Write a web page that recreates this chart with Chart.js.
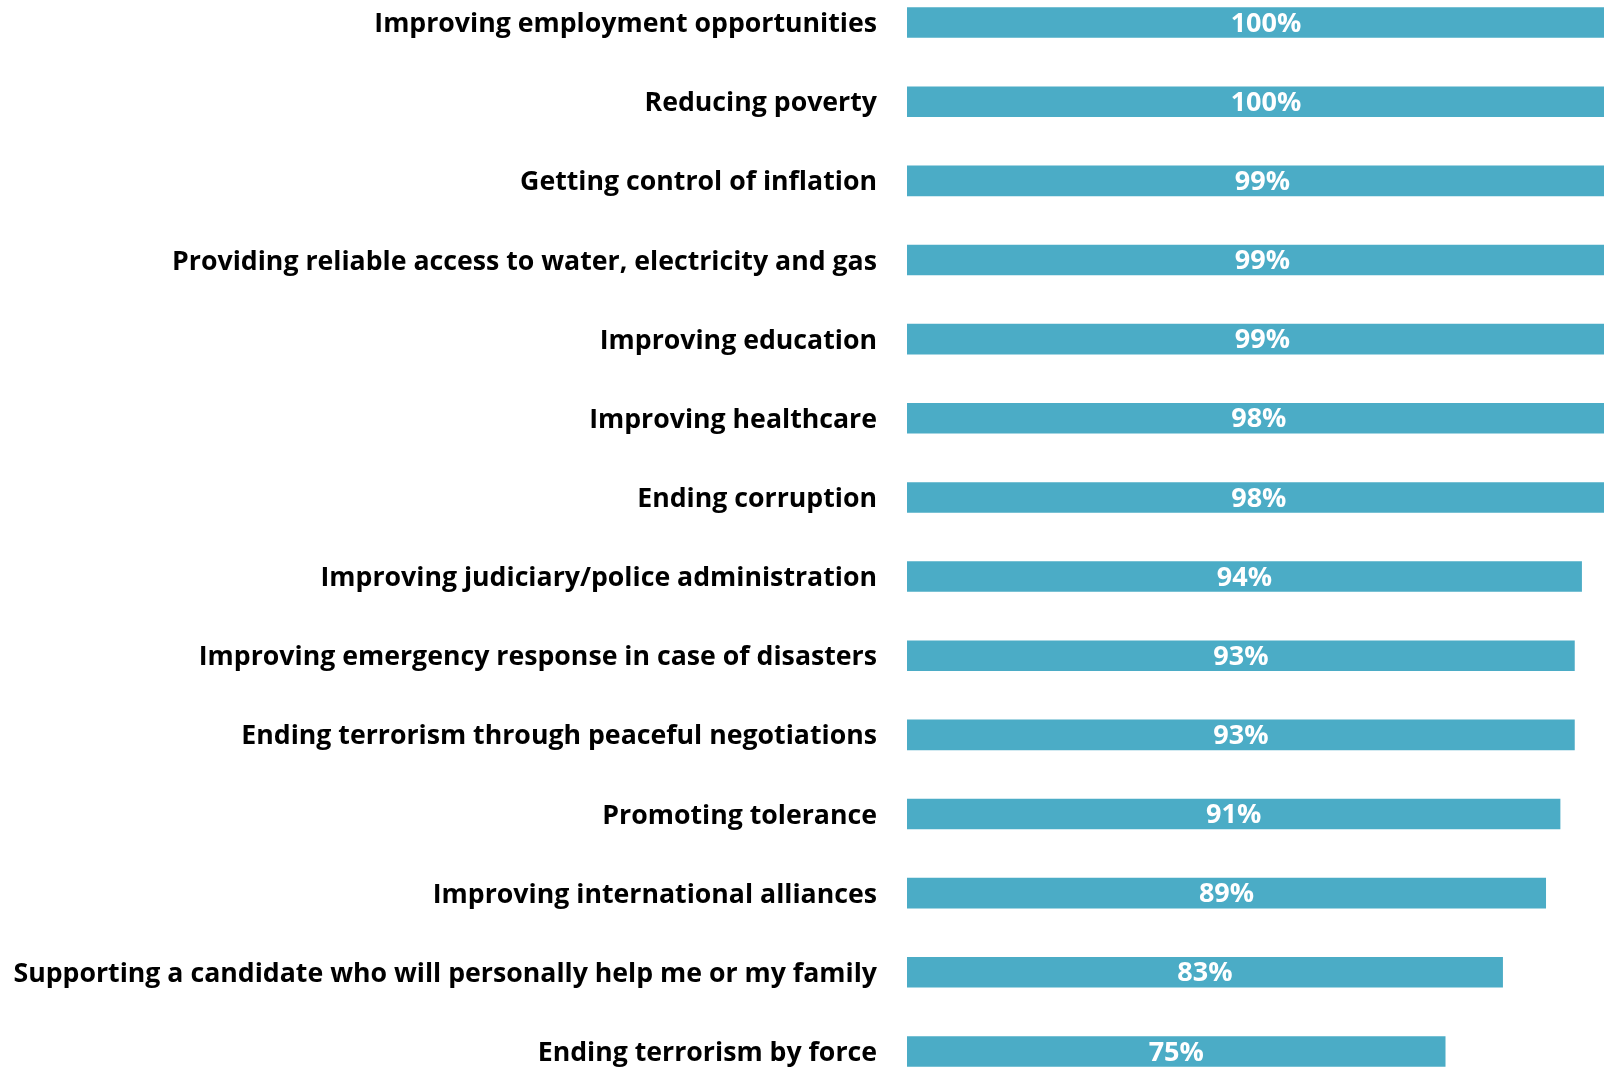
<!DOCTYPE html>
<html>
<head>
<meta charset="utf-8">
<script src="https://cdn.jsdelivr.net/npm/chart.js@4.4.1/dist/chart.umd.min.js"></script>
<style>
  html, body { margin: 0; padding: 0; background: #ffffff; overflow: hidden; width: 1604px; height: 1067px; }
  #wrap { position: absolute; left: 0; top: -19px; width: 1640px; height: 1110px; }
</style>
</head>
<body>
<div id="wrap"><canvas id="c"></canvas></div>
<script>
const categories = [
  "Improving employment opportunities",
  "Reducing poverty",
  "Getting control of inflation",
  "Providing reliable access to water, electricity and gas",
  "Improving education",
  "Improving healthcare",
  "Ending corruption",
  "Improving judiciary/police administration",
  "Improving emergency response in case of disasters",
  "Ending terrorism through peaceful negotiations",
  "Promoting tolerance",
  "Improving international alliances",
  "Supporting a candidate who will personally help me or my family",
  "Ending terrorism by force"
];
const values = [100, 100, 99, 99, 99, 98, 98, 94, 93, 93, 91, 89, 83, 75];
const valueLabels = ["100%", "100%", "99%", "99%", "99%", "98%", "98%", "94%", "93%", "93%", "91%", "89%", "83%", "75%"];

const FONT = "'Open Sans', Lato, sans-serif";

const barLabels = {
  id: 'barLabels',
  afterDatasetsDraw(chart) {
    const ctx = chart.ctx;
    const meta = chart.getDatasetMeta(0);
    ctx.save();
    ctx.fillStyle = '#ffffff';
    ctx.font = 'bold 27px ' + FONT;
    ctx.textAlign = 'center';
    ctx.textBaseline = 'middle';
    meta.data.forEach((bar, i) => {
      const cx = (bar.x + bar.base) / 2;
      ctx.fillText(valueLabels[i], cx, bar.y + 1.5);
    });
    ctx.restore();
  }
};

new Chart(document.getElementById('c'), {
  type: 'bar',
  data: {
    labels: categories,
    datasets: [{
      data: values,
      backgroundColor: '#4BACC6',
      borderWidth: 0,
      barPercentage: 0.386,
      categoryPercentage: 1.0
    }]
  },
  options: {
    indexAxis: 'y',
    responsive: true,
    maintainAspectRatio: false,
    animation: false,
    layout: { padding: { top: 2, bottom: 0, left: 0, right: 15 } },
    plugins: { legend: { display: false }, tooltip: { enabled: false } },
    scales: {
      x: {
        display: false,
        min: 0,
        max: 100,
        grid: { display: false }
      },
      y: {
        border: { display: false },
        grid: {
          display: true,
          drawOnChartArea: false,
          drawTicks: true,
          tickLength: 30,
          color: 'rgba(0,0,0,0)'
        },
        ticks: {
          color: '#000000',
          padding: 0,
          labelOffset: 2,
          font: { family: FONT, weight: 'bold', size: 26.7 }
        },
        afterFit(scale) {
          scale.width = 907;
          scale.paddingTop = 0;
          scale.paddingBottom = 0;
        }
      }
    }
  },
  plugins: [barLabels]
});
</script>
</body>
</html>
